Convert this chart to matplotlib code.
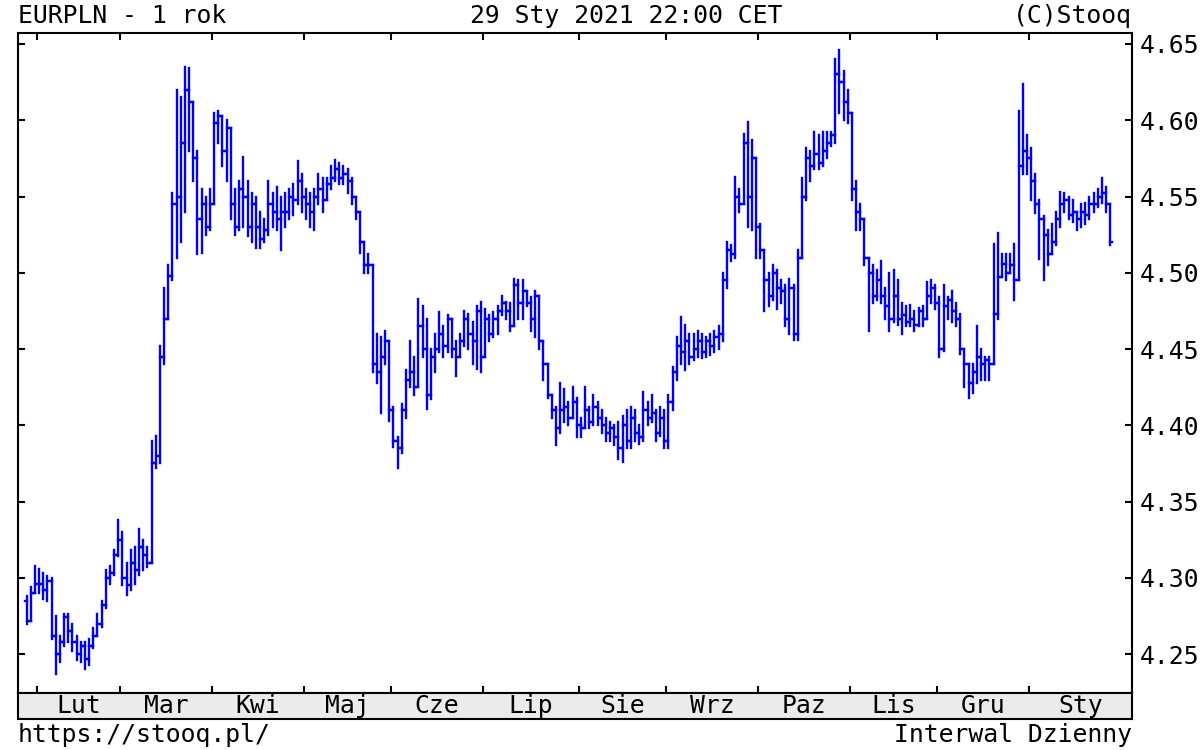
import pandas as pd
import matplotlib
matplotlib.use("Agg")
import matplotlib.pyplot as plt
from matplotlib.collections import LineCollection
from matplotlib.transforms import blended_transform_factory

plt.rcParams['font.family'] = ['DejaVu Sans Mono', 'DejaVu Sans']

# EURPLN, notowania dzienne 29.01.2020 - 29.01.2021
opens = [
    4.285, 4.272, 4.290,
    4.296, 4.296, 4.292, 4.298, 4.262, 4.250, 4.258, 4.274, 4.265, 4.258, 4.250, 4.255, 4.247, 4.255, 4.262, 4.270, 4.282, 4.300, 4.303, 4.315,
    4.325, 4.300, 4.295, 4.310, 4.305, 4.320, 4.315, 4.310, 4.375, 4.380, 4.445, 4.470, 4.498, 4.545, 4.550, 4.585, 4.620, 4.612, 4.575, 4.535, 4.545, 4.530,
    4.545, 4.598, 4.603, 4.580, 4.595, 4.545, 4.530, 4.555, 4.550, 4.530, 4.545, 4.530, 4.522, 4.528, 4.545, 4.540, 4.535, 4.540, 4.540, 4.550, 4.548, 4.560,
    4.550, 4.545, 4.540, 4.550, 4.555, 4.548, 4.558, 4.562, 4.568, 4.562, 4.565, 4.560, 4.550, 4.540, 4.520, 4.505, 4.505, 4.440, 4.435, 4.445, 4.455,
    4.410, 4.390, 4.385, 4.410, 4.430, 4.435, 4.425, 4.465, 4.450, 4.420, 4.445, 4.450, 4.460, 4.452, 4.470, 4.450, 4.445, 4.455, 4.470, 4.460, 4.455, 4.475,
    4.445, 4.470, 4.460, 4.470, 4.475, 4.480, 4.475, 4.465, 4.492, 4.480, 4.488, 4.480, 4.470, 4.485, 4.455, 4.440, 4.420, 4.410, 4.398, 4.410, 4.412, 4.405, 4.415,
    4.400, 4.398, 4.410, 4.402, 4.412, 4.405, 4.400, 4.395, 4.398, 4.392, 4.385, 4.400, 4.390, 4.405, 4.395, 4.392, 4.410, 4.405, 4.408, 4.395, 4.405,
    4.390, 4.415, 4.435, 4.452, 4.448, 4.455, 4.445, 4.450, 4.455, 4.448, 4.455, 4.452, 4.458, 4.460, 4.495, 4.515, 4.512, 4.550, 4.545, 4.585, 4.550, 4.575,
    4.530, 4.515, 4.495, 4.485, 4.500, 4.490, 4.488, 4.470, 4.490, 4.460, 4.510, 4.550, 4.575, 4.570, 4.578, 4.572, 4.580, 4.585, 4.590, 4.630, 4.625, 4.612,
    4.605, 4.555, 4.540, 4.535, 4.510, 4.500, 4.485, 4.495, 4.485, 4.478, 4.470, 4.485, 4.470, 4.472, 4.468, 4.470, 4.466, 4.475, 4.470, 4.485, 4.490,
    4.480, 4.450, 4.478, 4.482, 4.475, 4.470, 4.450, 4.440, 4.428, 4.435, 4.445, 4.440, 4.443, 4.440, 4.473, 4.497, 4.506, 4.500, 4.505, 4.495, 4.570, 4.580,
    4.575, 4.560, 4.545, 4.535, 4.525, 4.512, 4.520, 4.535, 4.545, 4.548, 4.538, 4.540, 4.535, 4.540, 4.538, 4.545, 4.545, 4.550, 4.552, 4.545,
]
highs = [
    4.288, 4.294, 4.308,
    4.306, 4.303, 4.301, 4.300, 4.275, 4.262, 4.276, 4.276, 4.270, 4.262, 4.258, 4.258, 4.260, 4.267, 4.276, 4.285, 4.305, 4.308, 4.318, 4.338,
    4.330, 4.310, 4.318, 4.320, 4.332, 4.325, 4.320, 4.390, 4.393, 4.452, 4.490, 4.505, 4.552, 4.620, 4.615, 4.635, 4.634, 4.612, 4.580, 4.555, 4.550, 4.555,
    4.605, 4.606, 4.598, 4.600, 4.590, 4.555, 4.560, 4.576, 4.560, 4.552, 4.550, 4.540, 4.535, 4.560, 4.552, 4.556, 4.550, 4.552, 4.555, 4.558, 4.573, 4.565,
    4.555, 4.552, 4.555, 4.565, 4.562, 4.562, 4.570, 4.574, 4.572, 4.570, 4.568, 4.562, 4.550, 4.540, 4.518, 4.512, 4.505, 4.460, 4.458, 4.462, 4.440,
    4.412, 4.392, 4.414, 4.436, 4.455, 4.445, 4.483, 4.478, 4.470, 4.450, 4.460, 4.474, 4.465, 4.472, 4.465, 4.455, 4.460, 4.475, 4.473, 4.468, 4.478, 4.481,
    4.476, 4.472, 4.474, 4.478, 4.485, 4.481, 4.480, 4.496, 4.495, 4.495, 4.486, 4.484, 4.488, 4.462, 4.455, 4.432, 4.420, 4.412, 4.428, 4.424, 4.415, 4.425, 4.418,
    4.405, 4.425, 4.412, 4.420, 4.415, 4.410, 4.405, 4.402, 4.400, 4.402, 4.406, 4.410, 4.412, 4.410, 4.400, 4.422, 4.415, 4.420, 4.410, 4.412, 4.410,
    4.420, 4.438, 4.458, 4.471, 4.466, 4.460, 4.460, 4.462, 4.460, 4.458, 4.460, 4.462, 4.465, 4.500, 4.520, 4.518, 4.563, 4.555, 4.591, 4.599, 4.587, 4.548,
    4.532, 4.515, 4.500, 4.505, 4.502, 4.495, 4.492, 4.496, 4.492, 4.515, 4.562, 4.582, 4.580, 4.592, 4.590, 4.592, 4.592, 4.592, 4.640, 4.646, 4.632, 4.620,
    4.605, 4.560, 4.545, 4.532, 4.510, 4.505, 4.502, 4.508, 4.490, 4.500, 4.502, 4.495, 4.480, 4.478, 4.479, 4.475, 4.477, 4.478, 4.494, 4.495, 4.492,
    4.484, 4.492, 4.484, 4.488, 4.480, 4.473, 4.450, 4.440, 4.440, 4.465, 4.450, 4.445, 4.445, 4.519, 4.526, 4.512, 4.512, 4.512, 4.519, 4.606, 4.624, 4.590,
    4.582, 4.565, 4.548, 4.537, 4.528, 4.532, 4.540, 4.553, 4.552, 4.550, 4.548, 4.540, 4.545, 4.546, 4.550, 4.552, 4.555, 4.562, 4.556, 4.545,
]
lows = [
    4.270, 4.278, 4.290,
    4.290, 4.286, 4.285, 4.260, 4.237, 4.245, 4.255, 4.258, 4.252, 4.246, 4.245, 4.240, 4.243, 4.254, 4.262, 4.268, 4.280, 4.296, 4.302, 4.314,
    4.295, 4.289, 4.292, 4.296, 4.302, 4.305, 4.307, 4.310, 4.372, 4.375, 4.440, 4.470, 4.495, 4.510, 4.520, 4.540, 4.580, 4.560, 4.512, 4.513, 4.525, 4.528,
    4.545, 4.585, 4.570, 4.560, 4.535, 4.525, 4.528, 4.530, 4.524, 4.520, 4.516, 4.516, 4.520, 4.525, 4.530, 4.528, 4.515, 4.530, 4.535, 4.538, 4.545, 4.540,
    4.535, 4.530, 4.528, 4.545, 4.540, 4.548, 4.555, 4.560, 4.558, 4.558, 4.552, 4.545, 4.535, 4.513, 4.500, 4.500, 4.435, 4.428, 4.408, 4.440, 4.403,
    4.386, 4.372, 4.382, 4.405, 4.425, 4.420, 4.425, 4.445, 4.411, 4.417, 4.435, 4.448, 4.445, 4.448, 4.445, 4.432, 4.445, 4.452, 4.450, 4.440, 4.437, 4.435,
    4.445, 4.455, 4.458, 4.460, 4.472, 4.470, 4.462, 4.465, 4.470, 4.470, 4.478, 4.462, 4.458, 4.450, 4.430, 4.418, 4.405, 4.387, 4.395, 4.402, 4.400, 4.405, 4.392,
    4.392, 4.398, 4.398, 4.400, 4.400, 4.395, 4.390, 4.390, 4.387, 4.378, 4.376, 4.385, 4.385, 4.390, 4.388, 4.390, 4.400, 4.402, 4.390, 4.393, 4.385,
    4.385, 4.410, 4.430, 4.440, 4.436, 4.440, 4.443, 4.445, 4.444, 4.445, 4.446, 4.448, 4.450, 4.455, 4.490, 4.508, 4.510, 4.540, 4.545, 4.530, 4.528, 4.510,
    4.510, 4.475, 4.478, 4.482, 4.476, 4.480, 4.465, 4.460, 4.456, 4.456, 4.510, 4.548, 4.560, 4.568, 4.568, 4.570, 4.575, 4.583, 4.585, 4.605, 4.600, 4.598,
    4.548, 4.528, 4.528, 4.505, 4.462, 4.480, 4.482, 4.480, 4.470, 4.462, 4.468, 4.466, 4.460, 4.465, 4.465, 4.462, 4.465, 4.465, 4.470, 4.480, 4.476,
    4.445, 4.449, 4.470, 4.468, 4.465, 4.447, 4.425, 4.418, 4.421, 4.428, 4.430, 4.430, 4.430, 4.440, 4.470, 4.497, 4.495, 4.500, 4.482, 4.495, 4.565, 4.565,
    4.548, 4.539, 4.509, 4.495, 4.505, 4.512, 4.518, 4.530, 4.540, 4.535, 4.533, 4.528, 4.530, 4.532, 4.535, 4.540, 4.543, 4.546, 4.540, 4.518,
]
closes = [
    4.272, 4.290, 4.296,
    4.296, 4.292, 4.298, 4.262, 4.250, 4.258, 4.274, 4.265, 4.258, 4.250, 4.255, 4.247, 4.255, 4.262, 4.270, 4.282, 4.300, 4.303, 4.315, 4.325,
    4.300, 4.295, 4.310, 4.305, 4.320, 4.315, 4.310, 4.375, 4.380, 4.445, 4.470, 4.498, 4.545, 4.550, 4.585, 4.620, 4.612, 4.575, 4.535, 4.545, 4.530, 4.545,
    4.598, 4.603, 4.580, 4.595, 4.545, 4.530, 4.555, 4.550, 4.530, 4.545, 4.530, 4.522, 4.528, 4.545, 4.540, 4.535, 4.540, 4.540, 4.550, 4.548, 4.560, 4.550,
    4.545, 4.540, 4.550, 4.555, 4.548, 4.558, 4.562, 4.568, 4.562, 4.565, 4.560, 4.550, 4.540, 4.520, 4.505, 4.505, 4.440, 4.435, 4.445, 4.455, 4.410,
    4.390, 4.385, 4.410, 4.430, 4.435, 4.425, 4.465, 4.450, 4.420, 4.445, 4.450, 4.460, 4.452, 4.470, 4.450, 4.445, 4.455, 4.470, 4.460, 4.455, 4.475, 4.445,
    4.470, 4.460, 4.470, 4.475, 4.480, 4.475, 4.465, 4.492, 4.480, 4.488, 4.480, 4.470, 4.485, 4.455, 4.440, 4.420, 4.410, 4.398, 4.410, 4.412, 4.405, 4.415, 4.400,
    4.398, 4.410, 4.402, 4.412, 4.405, 4.400, 4.395, 4.398, 4.392, 4.385, 4.400, 4.390, 4.405, 4.395, 4.392, 4.410, 4.405, 4.408, 4.395, 4.405, 4.390,
    4.415, 4.435, 4.452, 4.448, 4.455, 4.445, 4.450, 4.455, 4.448, 4.455, 4.452, 4.458, 4.460, 4.495, 4.515, 4.512, 4.550, 4.545, 4.585, 4.550, 4.575, 4.530,
    4.515, 4.495, 4.485, 4.500, 4.490, 4.488, 4.470, 4.490, 4.460, 4.510, 4.550, 4.575, 4.570, 4.578, 4.572, 4.580, 4.585, 4.590, 4.630, 4.625, 4.612, 4.605,
    4.555, 4.540, 4.535, 4.510, 4.500, 4.485, 4.495, 4.485, 4.478, 4.470, 4.485, 4.470, 4.472, 4.468, 4.470, 4.466, 4.475, 4.470, 4.485, 4.490, 4.480,
    4.450, 4.478, 4.482, 4.475, 4.470, 4.450, 4.440, 4.428, 4.435, 4.445, 4.440, 4.443, 4.440, 4.473, 4.497, 4.506, 4.500, 4.505, 4.495, 4.570, 4.580, 4.575,
    4.560, 4.545, 4.535, 4.525, 4.512, 4.520, 4.535, 4.545, 4.548, 4.538, 4.540, 4.535, 4.540, 4.538, 4.545, 4.545, 4.550, 4.552, 4.545, 4.520,
]

month_names = ['Sty', 'Lut', 'Mar', 'Kwi', 'Maj', 'Cze', 'Lip', 'Sie', 'Wrz', 'Paz', 'Lis', 'Gru']
y_ticks = [4.25, 4.30, 4.35, 4.40, 4.45, 4.50, 4.55, 4.60, 4.65]

# dni sesyjne (bez 25.12 i 1.01)
dates = pd.bdate_range('2020-01-29', '2021-01-29')
dates = dates.drop(pd.to_datetime(['2020-12-25', '2021-01-01']))
n = len(dates)
assert n == len(opens) == len(highs) == len(lows) == len(closes)

W, H = 1200, 750
fig = plt.figure(figsize=(12, 7.5), dpi=100)
fig.patch.set_facecolor('white')

ax = fig.add_axes([18 / W, 1 - 692.5 / H, 1114 / W, (692.5 - 32.7) / H])
strip = fig.add_axes([18 / W, 1 - 719 / H, 1114 / W, 26.5 / H])

# slupki OHLC: pionowa kreska low-high, otwarcie z lewej, zamkniecie z prawej
segs = []
for i in range(n):
    o, h, l, c = opens[i], highs[i], lows[i], closes[i]
    segs.append([(i, min(l, o, c)), (i, max(h, o, c))])
    segs.append([(i - 0.5, o), (i, o)])
    segs.append([(i, c), (i + 0.5, c)])
lc = LineCollection(segs, colors='#0000ff', linewidths=1.7,
                    capstyle='projecting')
ax.add_collection(lc)

xlim = (-2.06, 265.2)
ax.set_xlim(*xlim)
ax.set_ylim(4.2248, 4.6574)

# granice miesiecy
starts = [i for i in range(1, n) if dates[i].month != dates[i - 1].month]
bounds = [s - 0.5 for s in starts]
ax.set_xticks(bounds)
ax.tick_params(axis='x', direction='in', top=True, bottom=True,
               labelbottom=False, length=5, width=1.5)
ax.set_yticks(y_ticks)
ax.set_yticklabels(['%.2f' % v for v in y_ticks])
ax.tick_params(axis='y', direction='in', left=True, right=True,
               labelleft=False, labelright=True, length=5, width=1.5,
               labelsize=17.8, pad=5.5)
for sp in ax.spines.values():
    sp.set_linewidth(1.5)

strip.set_facecolor('#ebebeb')
strip.set_xlim(*xlim)
strip.set_ylim(0, 1)
strip.set_xticks([])
strip.set_yticks([])
for sp in strip.spines.values():
    sp.set_linewidth(1.5)

fs = 17.8
trans = blended_transform_factory(ax.transData, fig.transFigure)
edges = bounds + [xlim[1]]
for k, s in enumerate(starts):
    xm = (edges[k] + edges[k + 1]) / 2
    fig.text(xm, 1 - 713 / H, month_names[dates[s].month - 1], transform=trans,
             ha='center', va='baseline', fontsize=fs)

fig.text(18 / W, 1 - 23 / H, 'EURPLN - 1 rok', ha='left', va='baseline', fontsize=fs)
fig.text(626 / W, 1 - 23 / H, '29 Sty 2021 22:00 CET', ha='center', va='baseline', fontsize=fs)
fig.text(1132 / W, 1 - 23 / H, '(C)Stooq', ha='right', va='baseline', fontsize=fs)
fig.text(18 / W, 1 - 742 / H, 'https://stooq.pl/', ha='left', va='baseline', fontsize=fs)
fig.text(1132 / W, 1 - 742 / H, 'Interwal Dzienny', ha='right', va='baseline', fontsize=fs)

fig.savefig('out.png', dpi=100)
